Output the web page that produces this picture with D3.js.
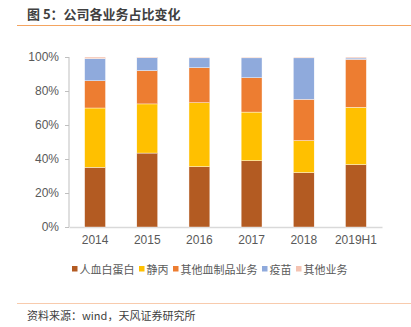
<!DOCTYPE html>
<html>
<head>
<meta charset="utf-8">
<script src="https://cdn.jsdelivr.net/npm/d3@7/dist/d3.min.js"></script>
<style>
  html, body { margin: 0; padding: 0; background: #fff; }
  svg { display: block; font-family: "Microsoft YaHei", "Noto Sans CJK SC", sans-serif; }
</style>
</head>
<body>
<svg id="chart" width="411" height="327"></svg>
<script>
// business share by year, in percent
var years = ["2014", "2015", "2016", "2017", "2018", "2019H1"];
var seriesNames = ["人血白蛋白", "静丙", "其他血制品业务", "疫苗", "其他业务"];
var albumin = [35.1, 43.5, 35.5, 39.0, 32.0, 36.7];
var ivig = [34.9, 28.9, 37.6, 28.6, 18.8, 33.7];
var otherBlood = [16.0, 19.6, 20.6, 20.2, 24.3, 28.2];
var vaccine = [13.0, 7.6, 5.8, 11.7, 24.4, 0.8];
var otherBiz = [1.0, 0.4, 0.5, 0.5, 0.5, 0.6];
var yTicks = [0, 20, 40, 60, 80, 100];

var colors = ["#B35B22", "#FFC000", "#ED7D31", "#8FAADC", "#F4C3B2"];

var svg = d3.select("#chart");

// header
svg.append("text")
  .attr("x", 27).attr("y", 19)
  .style("font-size", "13px").style("font-weight", "bold")
  .style("fill", "#404040")
  .text("图 5：公司各业务占比变化");
svg.append("line")
  .attr("x1", 17).attr("x2", 411).attr("y1", 25.5).attr("y2", 25.5)
  .style("stroke", "#F4A460").style("stroke-width", 1.2);

var rows = years.map(function(y, i) {
  return { year: y, 0: albumin[i], 1: ivig[i], 2: otherBlood[i], 3: vaccine[i], 4: otherBiz[i] };
});
var stacked = d3.stack().keys([0, 1, 2, 3, 4])(rows);

var x = d3.scaleBand().domain(years).range([69, 382]).paddingInner(0.6).paddingOuter(0.3);
var y = d3.scaleLinear().domain([0, 100]).range([227, 57]);

// axes
var yAxis = svg.append("g")
  .attr("transform", "translate(69,0)")
  .call(d3.axisLeft(y).tickValues(yTicks).tickSize(4).tickPadding(6).tickFormat(function(d) { return d + "%"; }));
yAxis.select(".domain").attr("d", "M0," + y(0) + "V" + y(100)).style("stroke", "#BFBFBF");
yAxis.selectAll(".tick line").style("stroke", "#BFBFBF");
yAxis.selectAll(".tick text").style("font-size", "12px").style("fill", "#595959")
  .style("font-family", "Arial, 'Liberation Sans', sans-serif");

var xAxis = svg.append("g")
  .attr("transform", "translate(0," + y(0) + ")")
  .call(d3.axisBottom(x).tickSize(0).tickPadding(8));
xAxis.select(".domain").style("stroke", "#D9D9D9").style("stroke-width", 1.5);
xAxis.selectAll(".tick text").style("font-size", "12px").style("fill", "#595959")
  .style("font-family", "Arial, 'Liberation Sans', sans-serif");

// stacked bars
svg.append("g").selectAll("g")
  .data(stacked)
  .join("g")
  .style("fill", function(d, i) { return colors[i]; })
  .selectAll("rect")
  .data(function(d) { return d; })
  .join("rect")
  .attr("x", function(d) { return x(d.data.year); })
  .attr("width", x.bandwidth())
  .attr("y", function(d) { return y(d[1]); })
  .attr("height", function(d) { return y(d[0]) - y(d[1]); })
  .style("stroke", "#fff").style("stroke-width", 0.4);

// legend
var legend = svg.append("g").attr("transform", "translate(72,270)");
var lx = 0;
seriesNames.forEach(function(name, i) {
  legend.append("rect").attr("x", lx).attr("y", -4).attr("width", 5.5).attr("height", 5.5)
    .style("fill", colors[i]);
  var t = legend.append("text").attr("x", lx + 7.5).attr("y", 0).attr("dy", "0.35em")
    .style("font-size", "11px").style("fill", "#595959").text(name);
  lx += 7.5 + t.node().getComputedTextLength() + 4.5;
});

// footer
svg.append("line")
  .attr("x1", 17).attr("x2", 411).attr("y1", 303.5).attr("y2", 303.5)
  .style("stroke", "#F8CBAD").style("stroke-width", 1.2);
svg.append("text")
  .attr("x", 27).attr("y", 320)
  .style("font-size", "11px").style("fill", "#404040")
  .text("资料来源：wind，天风证券研究所");
</script>
</body>
</html>
